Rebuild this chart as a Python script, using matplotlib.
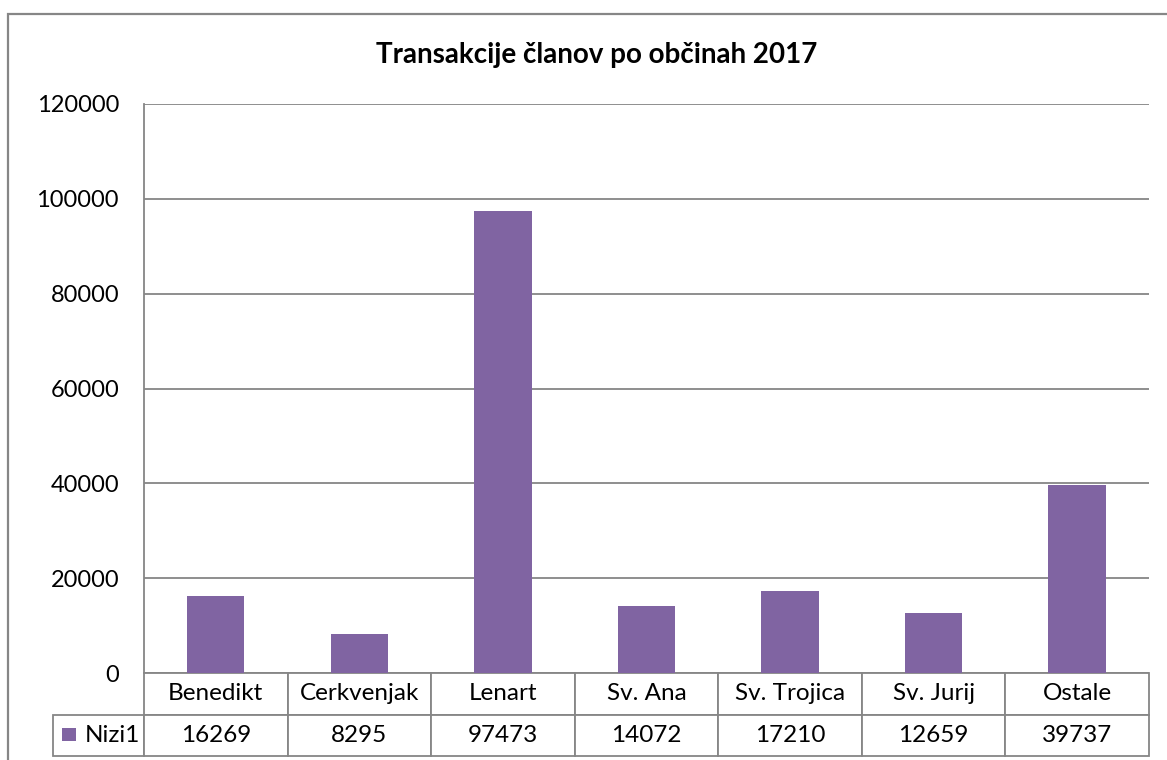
import matplotlib.pyplot as plt
from matplotlib.patches import Rectangle

# data
categories = ['Benedikt', 'Cerkvenjak', 'Lenart', 'Sv. Ana', 'Sv. Trojica', 'Sv. Jurij', 'Ostale']
values = [16269, 8295, 97473, 14072, 17210, 12659, 39737]
series_name = 'Nizi1'
title = 'Transakcije članov po občinah 2017'

bar_color = '#8064A2'
line_color = '#868686'

plt.rcParams['font.family'] = ['Lato', 'DejaVu Sans']

W, H = 1167, 760
fig = plt.figure(figsize=(W / 100, H / 100), dpi=100)

# plot area in pixels
left, right, top, bottom = 144, 1149, 104, 673
ax = fig.add_axes([left / W, 1 - bottom / H, (right - left) / W, (bottom - top) / H])

x = range(len(categories))
ax.bar(x, values, width=0.4, color=bar_color, zorder=3)
ax.set_xlim(-0.5, len(categories) - 0.5)
ax.set_ylim(0, 120000)
ax.set_yticks(range(0, 120001, 20000))
ax.yaxis.grid(True, color=line_color, linewidth=1.3)
ax.set_axisbelow(True)
ax.tick_params(axis='y', length=0, pad=18, labelsize=17)
ax.set_xticks([])
for s in ['top', 'right', 'bottom']:
    ax.spines[s].set_visible(False)
ax.spines['left'].set_color(line_color)
ax.spines['left'].set_linewidth(1.3)

# data table under the chart (Excel style), widths in axes fractions
col_w = 1 / len(categories)
label_w = (left - 53) / (right - left)
tbl_h = (756 - bottom) / (bottom - top)
tbl = ax.table(cellText=[[str(v) for v in values]], rowLabels=[series_name],
               colLabels=categories, cellLoc='center', rowLoc='right',
               colLoc='center', colWidths=[col_w] * len(categories),
               bbox=[0, -tbl_h, 1, tbl_h])
tbl._autoColumns = []
tbl[1, -1].set_width(label_w)
tbl.auto_set_font_size(False)
tbl.set_fontsize(17.5)
for (r, c), cell in tbl.get_celld().items():
    cell.set_edgecolor(line_color)
    cell.set_linewidth(1.3)
    cell.set_height(tbl_h / 2)
    if c == -1:
        cell.PAD = 0.04

# legend key in the row label cell
fig.patches.append(Rectangle((62 / W, 1 - 741 / H), 14 / W, 13 / H,
                             transform=fig.transFigure, facecolor=bar_color,
                             edgecolor='none', zorder=5))

# outer chart border
fig.patches.append(Rectangle((8 / W, -0.01), 1.05, 1 - 14 / H + 0.01,
                             transform=fig.transFigure, facecolor='none',
                             edgecolor=line_color, linewidth=1.6))

fig.text(597 / W, 1 - 55 / H, title, ha='center', va='center',
         fontsize=20, fontweight='bold')

fig.savefig('out.png', dpi=100)
